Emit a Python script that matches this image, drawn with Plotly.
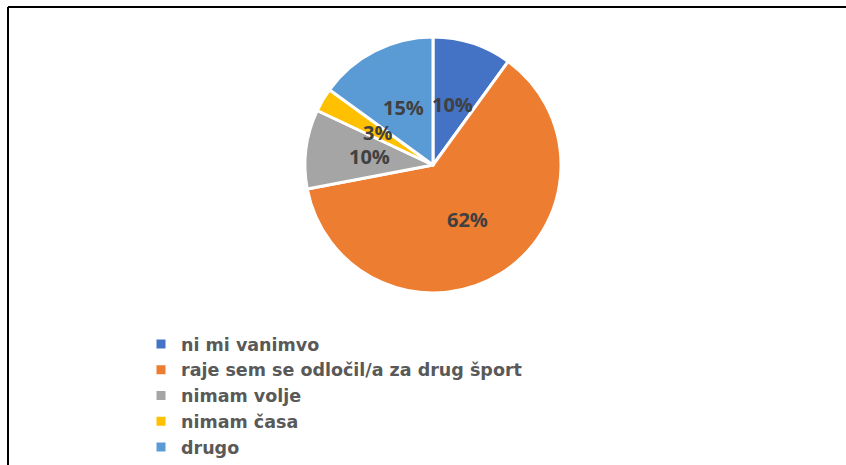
import math
import plotly.graph_objects as go

W, H = 846, 465

labels = ['ni mi vanimvo', 'raje sem se odločil/a za drug šport', 'nimam volje', 'nimam časa', 'drugo']
values = [10, 62, 10, 3, 15]
colors = ['#4472C4', '#ED7D31', '#A5A5A5', '#FFC000', '#5B9BD5']

# pie geometry in pixels
cx, cy, r = 433, 165, 128

fig = go.Figure(go.Pie(
    labels=['<b>%s</b>' % l for l in labels],
    values=values,
    sort=False,
    direction='clockwise',
    rotation=0,
    marker=dict(colors=colors, line=dict(color='white', width=3)),
    textinfo='none',
    hoverinfo='label+percent',
    domain=dict(x=[(cx - r) / W, (cx + r) / W], y=[1 - (cy + r) / H, 1 - (cy - r) / H]),
))

# percentage labels at half radius, like Excel does it
total = sum(values)
cum = 0
annotations = []
for v in values:
    mid = (cum + v / 2) / total * 2 * math.pi
    cum += v
    px = cx + 0.5 * r * math.sin(mid)
    py = cy - 0.5 * r * math.cos(mid)
    annotations.append(dict(
        x=px / W, y=1 - py / H, xref='paper', yref='paper',
        xanchor='center', yanchor='middle',
        text='<b>%d%%</b>' % round(v / total * 100), showarrow=False,
        font=dict(size=20, color='#404040', family='Open Sans'),
    ))

fig.update_layout(
    width=W, height=H,
    margin=dict(l=0, r=0, t=0, b=0),
    paper_bgcolor='white',
    font=dict(family='Open Sans'),
    annotations=annotations,
    legend=dict(
        x=141 / W, y=0, xanchor='left', yanchor='bottom',
        font=dict(size=17.5, color='#595959', family='DejaVu Sans'),
        tracegroupgap=0, itemwidth=30,
    ),
    shapes=[
        dict(type='line', xref='paper', yref='paper', x0=8 / W, x1=1, y0=1 - 7 / H, y1=1 - 7 / H,
             line=dict(color='black', width=2)),
        dict(type='line', xref='paper', yref='paper', x0=8 / W, x1=8 / W, y0=0, y1=1 - 7 / H,
             line=dict(color='black', width=2)),
    ],
)

fig.write_html('out.html', config={'displayModeBar': False},
               post_script="document.body.style.margin='0';")
